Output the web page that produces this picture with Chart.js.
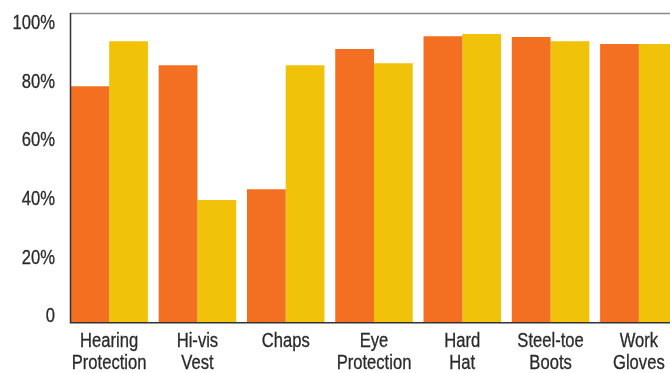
<!DOCTYPE html>
<html>
<head>
<meta charset="utf-8">
<script src="https://cdn.jsdelivr.net/npm/chart.js@4/dist/chart.umd.min.js"></script>
<style>
  html, body { margin: 0; padding: 0; background: #fff; overflow: hidden; }
  #wrap { width: 670px; height: 373px; overflow: hidden; position: relative; }
  #box { width: 683px; height: 373px; position: absolute; left: 0; top: 0; }
</style>
</head>
<body>
<div id="wrap"><div id="box"><canvas id="c"></canvas></div></div>
<script>
// PPE usage by item: two groups compared side by side
const categories = [
  ['Hearing', 'Protection'],
  ['Hi-vis', 'Vest'],
  ['Chaps'],
  ['Eye', 'Protection'],
  ['Hard', 'Hat'],
  ['Steel-toe', 'Boots'],
  ['Work', 'Gloves']
];
const seriesOrange = [80.5, 87.7, 45.4, 93.2, 97.6, 97.3, 94.9];
const seriesYellow = [95.9, 41.7, 87.7, 88.4, 98.3, 95.9, 94.9];
const tickValues = [0, 20, 40, 60, 80, 100];
const tickLabels = ['0', '20%', '40%', '60%', '80%', '100%'];

const FONT = "20px 'Liberation Sans', Arial, sans-serif";
const TEXT = '#2a2a2a';
const SQUEEZE = 0.83; // condensed lettering

function squeezedText(ctx, text, x, y, align) {
  ctx.save();
  ctx.translate(x, y);
  ctx.scale(SQUEEZE, 1);
  ctx.textAlign = align;
  ctx.lineWidth = 0.3;
  ctx.strokeStyle = TEXT;
  ctx.fillText(text, 0, 0);
  ctx.strokeText(text, 0, 0);
  ctx.restore();
}

// Frame, axis lines and condensed tick labels
const framePlugin = {
  id: 'frame',
  afterDatasetsDraw(chart) {
    const { ctx, chartArea, scales } = chart;
    const first = chart.getDatasetMeta(0).data[0];
    const left = Math.round(first.x - first.width / 2);
    ctx.save();
    ctx.strokeStyle = '#8a8a8a';
    ctx.lineWidth = 1.5;
    ctx.beginPath();
    ctx.moveTo(left, chartArea.top + 0.5);
    ctx.lineTo(chartArea.right, chartArea.top + 0.5);
    ctx.stroke();
    ctx.strokeStyle = '#333';
    ctx.lineWidth = 1.5;
    ctx.beginPath();
    ctx.moveTo(left + 0.5, chartArea.top);
    ctx.lineTo(left + 0.5, chartArea.bottom + 0.5);
    ctx.lineTo(chartArea.right, chartArea.bottom + 0.5);
    ctx.stroke();

    ctx.fillStyle = TEXT;
    ctx.font = FONT;
    ctx.textBaseline = 'alphabetic';
    // y labels sit on their value line
    tickValues.forEach((v, i) => {
      const y = scales.y.getPixelForValue(v);
      squeezedText(ctx, tickLabels[i], left - 15, y, 'right');
    });
    // category labels, two lines each
    categories.forEach((lines, i) => {
      const x = scales.x.getPixelForTick(i);
      lines.forEach((t, j) => {
        squeezedText(ctx, t, x, chartArea.bottom + 24.5 + j * 22.3, 'center');
      });
    });
    ctx.restore();
  }
};

new Chart(document.getElementById('c'), {
  type: 'bar',
  data: {
    labels: categories,
    datasets: [
      { data: seriesOrange, backgroundColor: '#F36F21', borderWidth: 0 },
      { data: seriesYellow, backgroundColor: '#F1C20A', borderWidth: 0 }
    ]
  },
  options: {
    responsive: true,
    maintainAspectRatio: false,
    animation: false,
    layout: { padding: { top: 13, right: 0, left: 0, bottom: 0 } },
    plugins: { legend: { display: false }, tooltip: { enabled: false } },
    datasets: { bar: { categoryPercentage: 0.878, barPercentage: 1.0 } },
    scales: {
      x: {
        offset: true,
        grid: { display: false, drawTicks: false },
        border: { display: false },
        ticks: { display: false },
        afterFit(scale) { scale.height = 50.7; }
      },
      y: {
        min: 0,
        max: 105.5,
        afterBuildTicks(scale) {
          scale.ticks = tickValues.map(v => ({ value: v }));
        },
        afterFit(scale) { scale.width = 65; },
        grid: { display: false, drawTicks: false },
        border: { display: false },
        ticks: { display: false }
      }
    }
  },
  plugins: [framePlugin]
});
</script>
</body>
</html>
